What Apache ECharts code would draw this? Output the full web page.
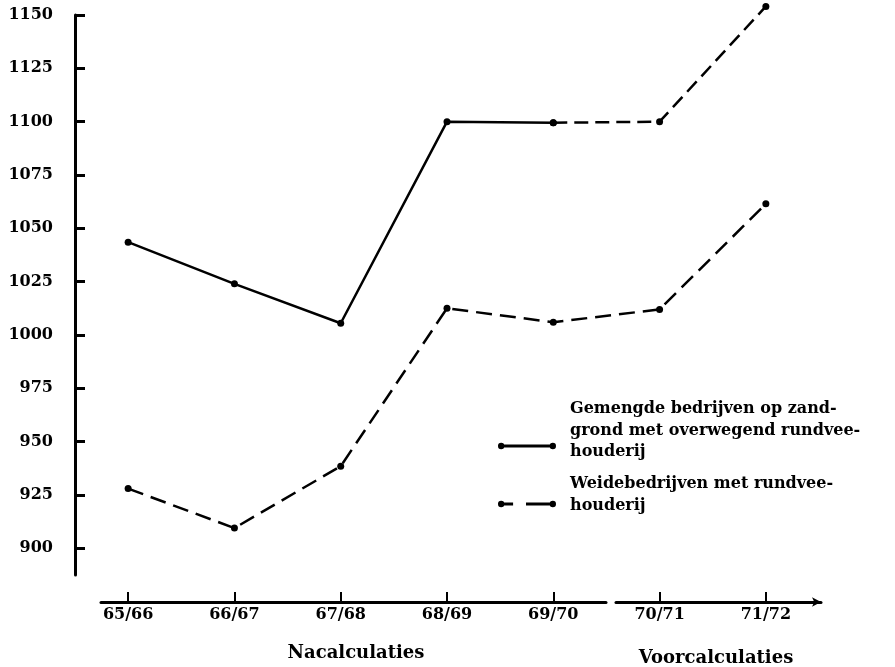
<!DOCTYPE html>
<html>
<head>
<meta charset="utf-8">
<script src="https://cdn.jsdelivr.net/npm/echarts@6/dist/echarts.min.js"></script>
<style>
html,body{margin:0;padding:0;background:#fff;}
#chart{width:895px;height:667px;}
</style>
</head>
<body>
<div id="chart"></div>
<script>
// ---- data ----
const categories = ['65/66', '66/67', '67/68', '68/69', '69/70', '70/71', '71/72'];
const gemengde = [1043.5, 1024, 1005.5, 1100, 1099.5, 1100, 1154];
const weide = [928, 909.5, 938.5, 1012.5, 1006, 1012, 1061.5];
const nacalcCount = 5; // first five seasons are "Nacalculaties", rest "Voorcalculaties"
const yTicks = [900, 925, 950, 975, 1000, 1025, 1050, 1075, 1100, 1125, 1150];
const groupLabels = ['Nacalculaties', 'Voorcalculaties'];
const seriesNames = ['Gemengde', 'Weide'];
const legendLines = [
  ['Gemengde bedrijven op zand-', 'grond met overwegend rundvee-', 'houderij'],
  ['Weidebedrijven met rundvee-', 'houderij']
];

const FONT = 'DejaVu Serif';
const gemSolid = gemengde.map((v, i) => i < nacalcCount ? v : '-');
const gemDashed = gemengde.map((v, i) => i >= nacalcCount - 1 ? v : '-');

const solidIcon = 'path://M3,0.8A3.2,3.2 0 1,1 3,7.2A3.2,3.2 0 1,1 3,0.8Z M6,2.6L52,2.6L52,5.4L6,5.4Z M55,0.8A3.2,3.2 0 1,1 55,7.2A3.2,3.2 0 1,1 55,0.8Z';
const dashIcon = 'path://M3,0.8A3.2,3.2 0 1,1 3,7.2A3.2,3.2 0 1,1 3,0.8Z M6,2.6L15,2.6L15,5.4L6,5.4Z M28,2.6L52,2.6L52,5.4L28,5.4Z M55,0.8A3.2,3.2 0 1,1 55,7.2A3.2,3.2 0 1,1 55,0.8Z';

function legendStyle(padH) {
  return {
    color: '#000', padding: [0, 0, 0, 9],
    rich: {
      a: { fontFamily: FONT, fontWeight: 'bold', fontSize: 16, lineHeight: 21.5, color: '#000' },
      b: { fontSize: 2, lineHeight: padH }
    }
  };
}
function legendFormatter(lines) {
  return () => lines.map(l => '{a|' + l + '}').join('\n') + '\n{b| }';
}

const lineCommon = {
  type: 'line', xAxisIndex: 0, yAxisIndex: 0,
  symbol: 'circle', symbolSize: 7, clip: false,
  itemStyle: { color: '#000' }, emphasis: { disabled: true },
  animation: false
};

const chart = echarts.init(document.getElementById('chart'));
chart.setOption({
  backgroundColor: '#fff',
  animation: false,
  grid: [
    { left: 75, right: 76, top: 15, bottom: 92 },
    { left: 101, width: 505, bottom: 65, height: 1 },
    { left: 616, width: 205, bottom: 65, height: 1 }
  ],
  xAxis: [
    {
      gridIndex: 0, type: 'category', data: categories, boundaryGap: true,
      position: 'bottom', offset: 26,
      axisLine: { show: false },
      axisTick: { show: true, inside: true, alignWithLabel: true, length: 9, lineStyle: { color: '#000', width: 2 } },
      axisLabel: { margin: 6, color: '#000', fontFamily: FONT, fontWeight: 'bold', fontSize: 16 },
      splitLine: { show: false }
    },
    {
      gridIndex: 1, type: 'value', min: 0, max: 1,
      axisLine: { show: true, onZero: false, lineStyle: { color: '#000', width: 3 } },
      axisTick: { show: false }, axisLabel: { show: false }, splitLine: { show: false }
    },
    {
      gridIndex: 2, type: 'value', min: 0, max: 1,
      axisLine: { show: true, onZero: false, symbol: ['none', 'arrow'], symbolSize: [7, 9], lineStyle: { color: '#000', width: 3 } },
      axisTick: { show: false }, axisLabel: { show: false }, splitLine: { show: false }
    }
  ],
  yAxis: [
    {
      gridIndex: 0, type: 'value', min: 887.5, max: 1150,
      axisLine: { show: true, lineStyle: { color: '#000', width: 3 } },
      axisTick: { show: true, inside: true, length: 10, customValues: yTicks, lineStyle: { color: '#000', width: 3 } },
      axisLabel: {
        margin: 22, customValues: yTicks, formatter: v => String(v),
        color: '#000', fontFamily: FONT, fontWeight: 'bold', fontSize: 16
      },
      splitLine: { show: false }
    },
    { gridIndex: 1, type: 'value', show: false },
    { gridIndex: 2, type: 'value', show: false }
  ],
  legend: [
    {
      data: [{ name: seriesNames[0], icon: solidIcon }],
      left: 493, top: 396, orient: 'vertical', itemWidth: 58, itemHeight: 8,
      selectedMode: false, textStyle: legendStyle(31),
      formatter: legendFormatter(legendLines[0])
    },
    {
      data: [{ name: seriesNames[1], icon: dashIcon }],
      left: 493, top: 471, orient: 'vertical', itemWidth: 58, itemHeight: 8,
      selectedMode: false, textStyle: legendStyle(18.5),
      formatter: legendFormatter(legendLines[1])
    }
  ],
  graphic: [
    { type: 'text', x: 356, y: 653, style: { text: groupLabels[0], fill: '#000', font: 'bold 18px "DejaVu Serif"', align: 'center', verticalAlign: 'middle' } },
    { type: 'text', x: 716, y: 658, style: { text: groupLabels[1], fill: '#000', font: 'bold 18px "DejaVu Serif"', align: 'center', verticalAlign: 'middle' } }
  ],
  series: [
    Object.assign({}, lineCommon, {
      name: seriesNames[0], data: gemSolid,
      lineStyle: { color: '#000', width: 2.5, type: 'solid' }
    }),
    Object.assign({}, lineCommon, {
      name: seriesNames[0] + ' (voorcalculatie)', data: gemDashed,
      lineStyle: { color: '#000', width: 2.5, type: [14, 7] }
    }),
    Object.assign({}, lineCommon, {
      name: seriesNames[1], data: weide,
      lineStyle: { color: '#000', width: 2.5, type: [16, 8] }
    })
  ]
});
</script>
</body>
</html>
